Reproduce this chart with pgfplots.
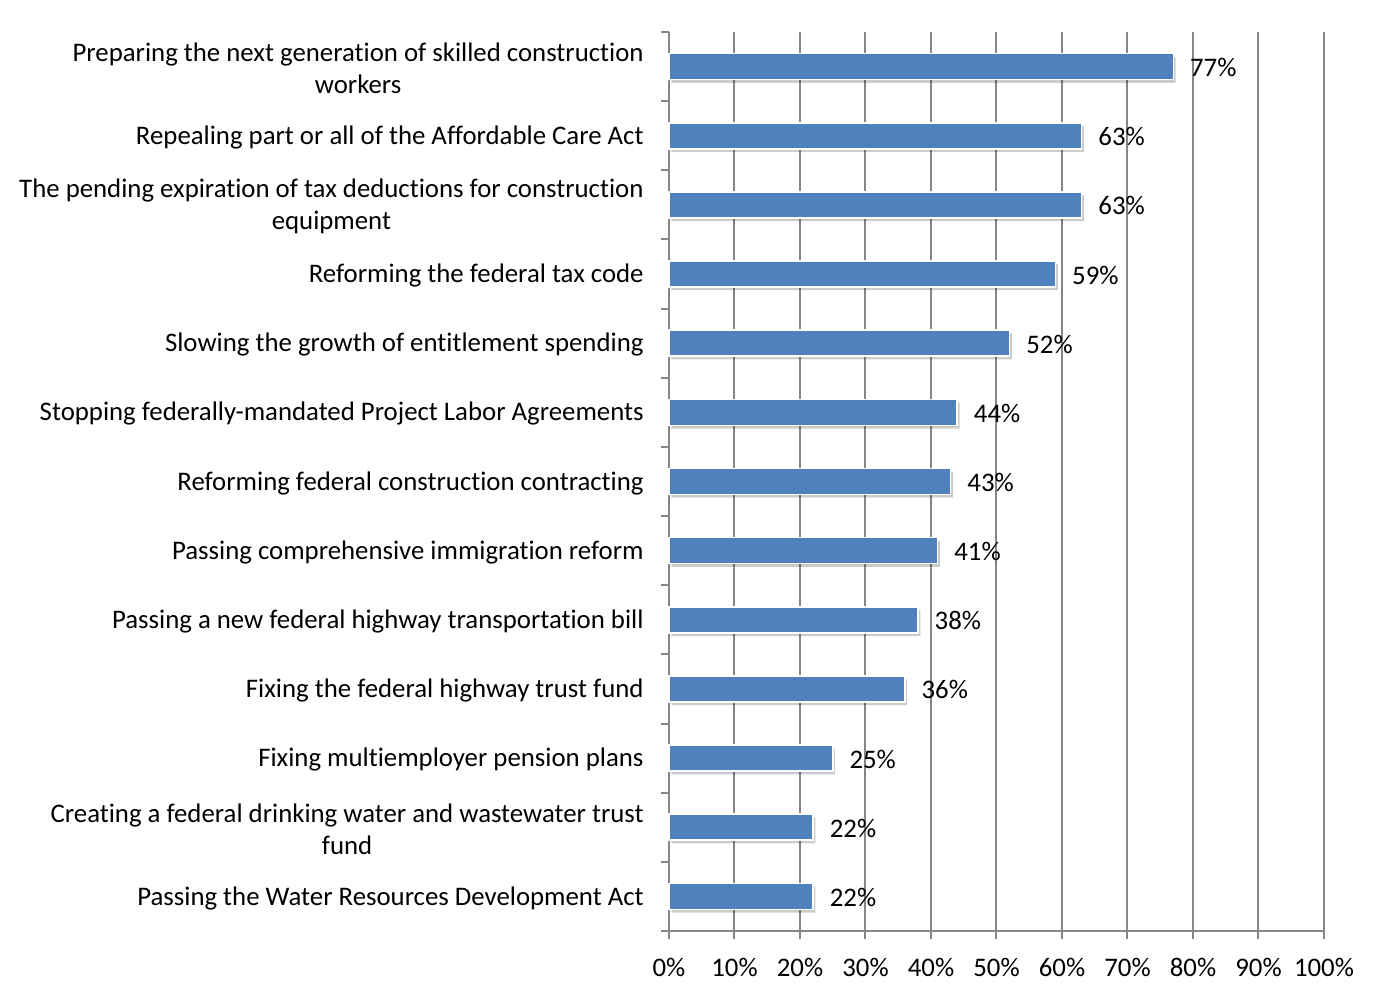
\documentclass[border=0pt]{standalone}
\usepackage{pgfplots}
\pgfplotsset{compat=1.18}
\usepackage{fontspec}
\setmainfont{Carlito}[Ligatures=NoCommon]
\definecolor{barblue}{HTML}{4F81BD}
\definecolor{gridgray}{HTML}{868686}
\newcommand{\lblfont}{\fontsize{13.4}{16}\selectfont}
\begin{document}
\lblfont
\begin{tikzpicture}
\useasboundingbox (-334.5pt,-31.5pt) rectangle (357pt,465.5pt);
\begin{axis}[
  at={(0,0)}, anchor=south west,
  scale only axis,
  width=327.5pt, height=449.5pt,
  xbar, bar width=13pt,
  xmin=0, xmax=100,
  ymin=-0.5, ymax=12.5,
  y dir=reverse,
  axis x line*=bottom, axis y line*=left,
  axis line style={gridgray, line width=1pt},
  xtick={0,10,...,100},
  xticklabels={0\%,10\%,20\%,30\%,40\%,50\%,60\%,70\%,80\%,90\%,100\%},
  xmajorgrids,
  major grid style={gridgray, line width=1pt},
  tick align=outside,
  major tick length=4pt,
  tick style={gridgray, line width=1pt},
  xticklabel style={yshift=-5pt, font=\lblfont},
  ytick={0,...,12},
  ytick style={draw=none},
  yticklabels={
    {Preparing the next generation of skilled construction\\workers},
    {Repealing part or all of the Affordable Care Act},
    {The pending expiration of tax deductions for construction\\equipment},
    {Reforming the federal tax code},
    {Slowing the growth of entitlement spending},
    {Stopping federally-mandated Project Labor Agreements},
    {Reforming federal construction contracting},
    {Passing comprehensive immigration reform},
    {Passing a new federal highway transportation bill},
    {Fixing the federal highway trust fund},
    {Fixing multiemployer pension plans},
    {Creating a federal drinking water and wastewater trust\\fund},
    {Passing the Water Resources Development Act}},
  yticklabel style={align=center, inner sep=0pt, xshift=-8.5pt, yshift=-0.8pt, font=\lblfont},
  extra y ticks={-0.5,0.5,...,12.5},
  extra y tick labels={},
  extra y tick style={ytick style={draw=gridgray, line width=1pt}, major tick length=4pt, grid=none},
  nodes near coords={\pgfmathprintnumber[assume math mode=true]{\pgfplotspointmeta}\%},
  every node near coord/.append style={anchor=west, inner sep=0pt, xshift=8pt, yshift=-0.5pt, black, font=\lblfont},
  clip=false,
]
\addplot[fill=barblue, draw=white, line width=0.8pt,
  preaction={fill=black, opacity=0.2, draw=none, transform canvas={xshift=1.2pt, yshift=-1.6pt}}]
  coordinates {
  (77,0) (63,1) (63,2) (59,3) (52,4) (44,5) (43,6) (41,7) (38,8) (36,9) (25,10) (22,11) (22,12)
};
\end{axis}
\end{tikzpicture}
\end{document}
